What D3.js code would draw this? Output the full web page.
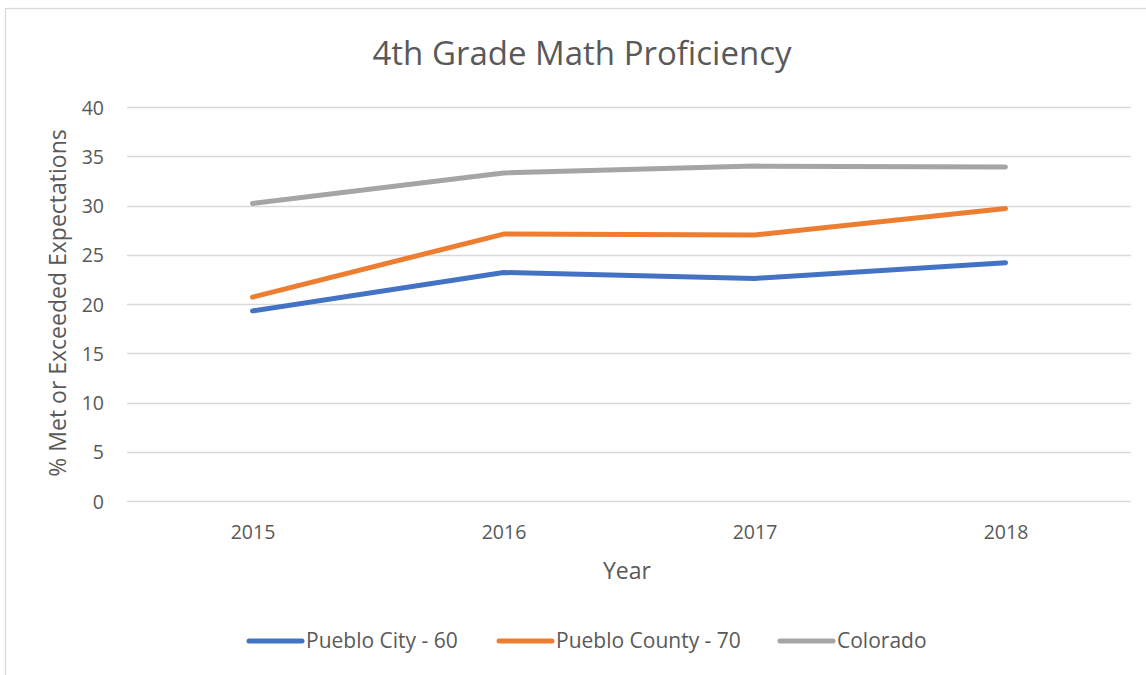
<!DOCTYPE html>
<html>
<head>
<meta charset="utf-8">
<script src="https://cdn.jsdelivr.net/npm/d3@7"></script>
<style>
html,body{margin:0;padding:0;background:#fff;}
svg{display:block;font-family:"Open Sans","Liberation Sans",sans-serif;}
</style>
</head>
<body>
<svg id="chart" width="1146" height="675"></svg>
<script>
const years = ["2015", "2016", "2017", "2018"];
const seriesNames = ["Pueblo City - 60", "Pueblo County - 70", "Colorado"];
const puebloCity = [19.3, 23.2, 22.6, 24.2];
const puebloCounty = [20.7, 27.1, 27.0, 29.7];
const colorado = [30.2, 33.3, 34.0, 33.9];
const yTicks = [0, 5, 10, 15, 20, 25, 30, 35, 40];
const colors = ["#4472C4", "#ED7D31", "#A5A5A5"];

const seriesValues = [puebloCity, puebloCounty, colorado];
const svg = d3.select("#chart");
const m = {left: 127, right: 1131, top: 107, bottom: 501};
const FONT = '"Open Sans", sans-serif';

// outer border (cropped)
svg.append("rect").attr("x", 5.5).attr("y", 8.5).attr("width", 1160).attr("height", 700)
  .attr("fill", "#fff").attr("stroke", "#d9d9d9").attr("stroke-width", 1.3);

const x = d3.scalePoint().domain(years).range([m.left, m.right]).padding(0.5);
const y = d3.scaleLinear().domain([0, 40]).range([m.bottom, m.top]);

// grid lines
svg.append("g").selectAll("line").data(yTicks).join("line")
  .attr("x1", m.left).attr("x2", m.right)
  .attr("y1", d => Math.round(y(d)) + 0.5).attr("y2", d => Math.round(y(d)) + 0.5)
  .attr("stroke", "#d9d9d9").attr("stroke-width", 1.3);

// y axis labels
const yAxis = d3.axisLeft(y).tickValues(yTicks).tickSize(0).tickPadding(0);
const gy = svg.append("g").attr("transform", `translate(${104},0)`).call(yAxis);
gy.select(".domain").remove();
gy.selectAll("text").attr("fill", "#595959").attr("dy", "0.36em").style("font-size", "19.5px")
  .style("font-family", FONT);

// x axis labels
const xAxis = d3.axisBottom(x).tickSize(0).tickPadding(0);
const gx = svg.append("g").attr("transform", `translate(0,${539})`).call(xAxis);
gx.select(".domain").remove();
gx.selectAll("text").attr("fill", "#595959").attr("dy", 0).style("font-size", "19.5px")
  .style("font-family", FONT);

// lines
const line = d3.line().x((d, i) => x(years[i])).y(d => y(d));
seriesValues.forEach((vals, k) => {
  svg.append("path").datum(vals).attr("d", line)
    .attr("fill", "none").attr("stroke", colors[k]).attr("stroke-width", 5)
    .attr("stroke-linecap", "round").attr("stroke-linejoin", "round");
});

// title
svg.append("text").attr("x", 582).attr("y", 65).attr("text-anchor", "middle")
  .attr("fill", "#595959").style("font-size", "33px").text("4th Grade Math Proficiency");

// axis titles
svg.append("text").attr("x", 627).attr("y", 579).attr("text-anchor", "middle")
  .attr("fill", "#595959").style("font-size", "23px").text("Year");
svg.append("text").attr("transform", `translate(66,303) rotate(-90)`).attr("text-anchor", "middle")
  .attr("fill", "#595959").style("font-size", "23px").text("% Met or Exceeded Expectations");

// legend
const legendItems = [
  {name: seriesNames[0], color: colors[0], x0: 247},
  {name: seriesNames[1], color: colors[1], x0: 497},
  {name: seriesNames[2], color: colors[2], x0: 778}
];
const lg = svg.append("g");
legendItems.forEach(it => {
  lg.append("line").attr("x1", it.x0 + 2).attr("x2", it.x0 + 55)
    .attr("y1", 641).attr("y2", 641).attr("stroke", it.color).attr("stroke-width", 5)
    .attr("stroke-linecap", "round");
  lg.append("text").attr("x", it.x0 + 59).attr("y", 648)
    .attr("fill", "#595959").style("font-size", "21px").text(it.name);
});
</script>
</body>
</html>
